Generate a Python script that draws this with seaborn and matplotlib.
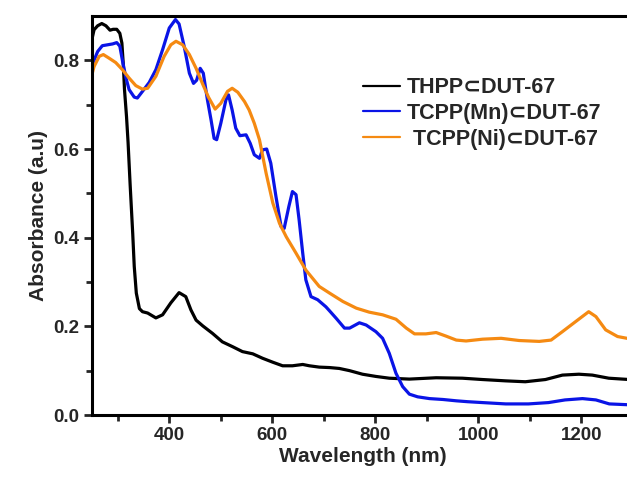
import numpy as np
import pandas as pd
import matplotlib
matplotlib.use("Agg")
import matplotlib.pyplot as plt
import seaborn as sns

labels = ["THPP\u2282DUT-67", "TCPP(Mn)\u2282DUT-67", " TCPP(Ni)\u2282DUT-67"]
colors = ["#000000", "#0a14e6", "#f58a12"]

thpp_x = [249, 254, 261, 269, 277, 285, 291, 298, 304, 308, 311, 313, 317, 320, 324, 329, 332, 336,
          342, 348, 358, 374, 387, 403, 419, 432, 442, 452, 465, 484, 503, 523, 542, 562, 581, 601,
          620, 639, 659, 672, 691, 711, 730, 750, 775, 801, 827, 866, 918, 969, 1008, 1053, 1091,
          1130, 1163, 1195, 1221, 1253, 1293]
thpp_y = [0.843, 0.869, 0.878, 0.883, 0.878, 0.868, 0.870, 0.870, 0.861, 0.839, 0.786, 0.735, 0.673,
          0.615, 0.52, 0.41, 0.335, 0.275, 0.24, 0.233, 0.23, 0.219, 0.226, 0.253, 0.276, 0.267,
          0.237, 0.214, 0.201, 0.184, 0.165, 0.154, 0.143, 0.138, 0.128, 0.119, 0.111, 0.111, 0.114,
          0.111, 0.108, 0.107, 0.105, 0.100, 0.092, 0.087, 0.083, 0.081, 0.084, 0.083, 0.080, 0.077,
          0.075, 0.080, 0.090, 0.092, 0.090, 0.083, 0.080]

mn_x = [249, 254, 261, 270, 280, 290, 298, 304, 309, 316, 322, 332, 338, 348, 361, 374, 387, 400,
        412, 419, 429, 439, 447, 453, 460, 466, 474, 481, 487, 492, 500, 510, 515, 522, 529, 537,
        549, 557, 565, 575, 581, 589, 597, 607, 617, 623, 632, 639, 646, 652, 659, 665, 675, 688,
        704, 711, 724, 740, 750, 769, 782, 801, 814, 827, 840, 853, 866, 882, 905, 931, 957, 979,
        1008, 1053, 1097, 1136, 1168, 1202, 1228, 1254, 1293]
mn_y = [0.775, 0.80, 0.82, 0.833, 0.835, 0.837, 0.84, 0.832, 0.80, 0.76, 0.734, 0.717, 0.715, 0.73,
        0.75, 0.779, 0.824, 0.873, 0.892, 0.882, 0.831, 0.771, 0.748, 0.755, 0.782, 0.771, 0.711,
        0.666, 0.624, 0.621, 0.658, 0.711, 0.722, 0.688, 0.647, 0.63, 0.632, 0.613, 0.587, 0.579,
        0.598, 0.60, 0.568, 0.493, 0.425, 0.421, 0.47, 0.504, 0.497, 0.44, 0.365, 0.305, 0.267,
        0.26, 0.244, 0.235, 0.218, 0.196, 0.196, 0.208, 0.203, 0.188, 0.173, 0.139, 0.094, 0.064,
        0.047, 0.041, 0.037, 0.035, 0.032, 0.030, 0.028, 0.025, 0.025, 0.028, 0.034, 0.037, 0.034,
        0.025, 0.023]

ni_x = [249, 254, 264, 272, 283, 296, 309, 322, 335, 348, 358, 374, 390, 403, 413, 426, 439, 452,
        465, 476, 489, 500, 513, 522, 533, 546, 555, 565, 575, 588, 601, 614, 627, 646, 665, 691,
        711, 737, 763, 788, 814, 840, 860, 876, 898, 918, 937, 957, 976, 1008, 1044, 1079, 1118,
        1141, 1163, 1189, 1214, 1228, 1247, 1270, 1293]
ni_y = [0.764, 0.786, 0.809, 0.813, 0.805, 0.795, 0.779, 0.760, 0.743, 0.735, 0.737, 0.764, 0.809,
        0.835, 0.843, 0.835, 0.813, 0.782, 0.746, 0.717, 0.690, 0.703, 0.730, 0.737, 0.728, 0.707,
        0.688, 0.658, 0.621, 0.545, 0.478, 0.432, 0.402, 0.365, 0.327, 0.29, 0.275, 0.256, 0.241,
        0.232, 0.226, 0.216, 0.196, 0.183, 0.183, 0.186, 0.178, 0.169, 0.167, 0.171, 0.173, 0.168,
        0.166, 0.169, 0.188, 0.211, 0.233, 0.222, 0.192, 0.177, 0.172]

frames = []
for lab, xs, ys in zip(labels, [thpp_x, mn_x, ni_x], [thpp_y, mn_y, ni_y]):
    frames.append(pd.DataFrame({"Wavelength": xs, "Absorbance": ys, "Sample": lab}))
df = pd.concat(frames, ignore_index=True)

sns.set_style("ticks")
plt.rcParams["font.family"] = ["Liberation Sans", "DejaVu Sans"]
plt.rcParams["font.weight"] = "bold"

fig = plt.figure(figsize=(6.27, 4.78), dpi=100)
ax = fig.add_axes([92/627, 1-415/478, 541/627, (415-16)/478])

sns.lineplot(data=df, x="Wavelength", y="Absorbance", hue="Sample", palette=colors,
             hue_order=labels, sort=False, linewidth=2.3, ax=ax, estimator=None)
for ln in ax.get_lines():
    ln.set_solid_joinstyle("round")
    ln.set_solid_capstyle("round")

ax.set_xlim(250, 1300)
ax.set_ylim(0, 0.9)
ax.set_xticks([400, 600, 800, 1000, 1200])
ax.set_xticks([300, 500, 700, 900, 1100], minor=True)
ax.set_yticks([0.0, 0.2, 0.4, 0.6, 0.8])
ax.set_yticks([0.1, 0.3, 0.5, 0.7], minor=True)
ax.set_yticklabels(["0.0", "0.2", "0.4", "0.6", "0.8"])
ax.tick_params(axis="both", which="major", direction="out", length=6, width=2,
               labelsize=13.5, pad=3)
ax.tick_params(axis="both", which="minor", direction="out", length=4, width=2)
for t in ax.get_xticklabels() + ax.get_yticklabels():
    t.set_fontweight("bold")
for s in ["left", "bottom", "top"]:
    ax.spines[s].set_linewidth(2.2)
    ax.spines[s].set_color("black")
ax.spines["right"].set_visible(False)
ax.set_xlabel("Wavelength (nm)", fontsize=15, fontweight="bold", labelpad=2)
ax.set_ylabel("Absorbance (a.u)", fontsize=15, fontweight="bold", labelpad=4)

leg = ax.legend(loc="upper left", bbox_to_anchor=(0.5, 0.847), frameon=False,
                borderaxespad=0, borderpad=0, handlelength=1.75, handletextpad=0.3,
                labelspacing=0.22, prop={"size": 15.5, "weight": "bold",
                                          "family": ["Liberation Sans", "DejaVu Sans"]})
for h in leg.get_lines():
    h.set_linewidth(1.6)

fig.savefig("out.png", dpi=100)
